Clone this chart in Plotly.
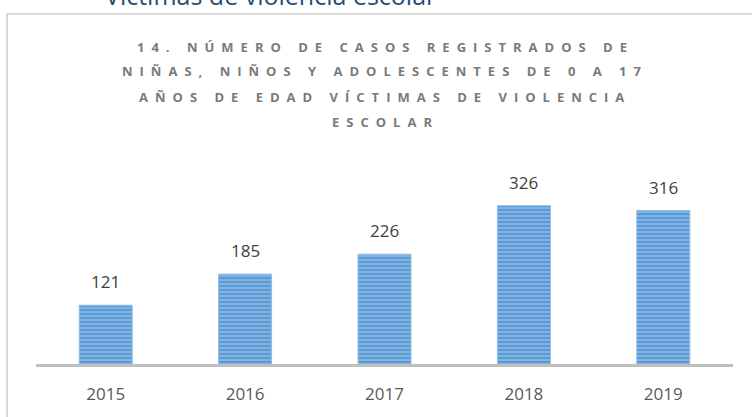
import plotly.graph_objects as go

years = ["2015", "2016", "2017", "2018", "2019"]
cases = [121, 185, 226, 326, 316]
title_lines = [
    "14. NÚMERO DE CASOS REGISTRADOS DE",
    "NIÑAS, NIÑOS Y ADOLESCENTES DE 0 A 17",
    "AÑOS DE EDAD VÍCTIMAS DE VIOLENCIA",
    "ESCOLAR",
]
heading = "Víctimas de violencia escolar"

W, H = 752, 417
PL, PR, PT, PB = 36, 733, 194, 366  # plot area in page pixels
L, T = PL, PT
R, B = W - PR, H - PB
ph = H - T - B
pw = W - L - R


def px(xp):
    return (xp - PL) / pw


def py(yp):
    return (PB - yp) / ph


fig = go.Figure()
fig.add_trace(go.Bar(
    x=years, y=cases,
    marker=dict(
        color="#5b9bd5",
        line=dict(color="#8fbbe3", width=1),
        pattern=dict(shape="-", fgcolor="#dce9f6", bgcolor="#5b9bd5", size=4, solidity=0.3),
    ),
    hoverinfo="skip",
))

annotations = []
for i, v in enumerate(cases):
    annotations.append(dict(
        x=i, y=v, xref="x", yref="y", text=str(v), showarrow=False,
        yanchor="bottom", yshift=10,
        font=dict(family="Open Sans", size=17, color="#404040"),
    ))

title_y_px = [45, 70, 96, 121]
for line, ypx in zip(title_lines, title_y_px):
    annotations.append(dict(
        x=px(385), y=py(ypx), xref="paper", yref="paper",
        text='<span style="letter-spacing:7px">' + line + '</span>',
        showarrow=False, xanchor="center", yanchor="middle",
        font=dict(family="Open Sans", size=13, color="#7a7a7a", weight="bold"),
    ))

annotations.append(dict(
    x=px(103), y=py(-7), xref="paper", yref="paper",
    text=heading, showarrow=False, xanchor="left", yanchor="middle",
    font=dict(family="Open Sans", size=25, color="#1f4e79"),
))

fig.update_layout(
    width=W, height=H,
    margin=dict(l=L, r=R, t=T, b=B),
    paper_bgcolor="white", plot_bgcolor="white",
    showlegend=False,
    bargap=0.62,
    annotations=annotations,
    shapes=[dict(
        type="rect", xref="paper", yref="paper",
        x0=px(7), x1=px(790),
        y0=py(460), y1=py(12),
        line=dict(color="#d9d9d9", width=2), fillcolor="rgba(0,0,0,0)", layer="below",
    )],
    xaxis=dict(
        type="category",
        showline=True, linecolor="#bfbfbf", linewidth=3,
        ticks="outside", ticklen=13, tickcolor="rgba(0,0,0,0)",
        tickfont=dict(family="Open Sans", size=17, color="#595959"),
        showgrid=False, zeroline=False, fixedrange=True,
    ),
    yaxis=dict(
        range=[0, 350], visible=False, showgrid=False, zeroline=False, fixedrange=True,
    ),
)

fig.write_html(
    "out.html",
    config={"displayModeBar": False},
    post_script="document.body.style.margin='0';document.body.style.overflow='hidden';",
)
